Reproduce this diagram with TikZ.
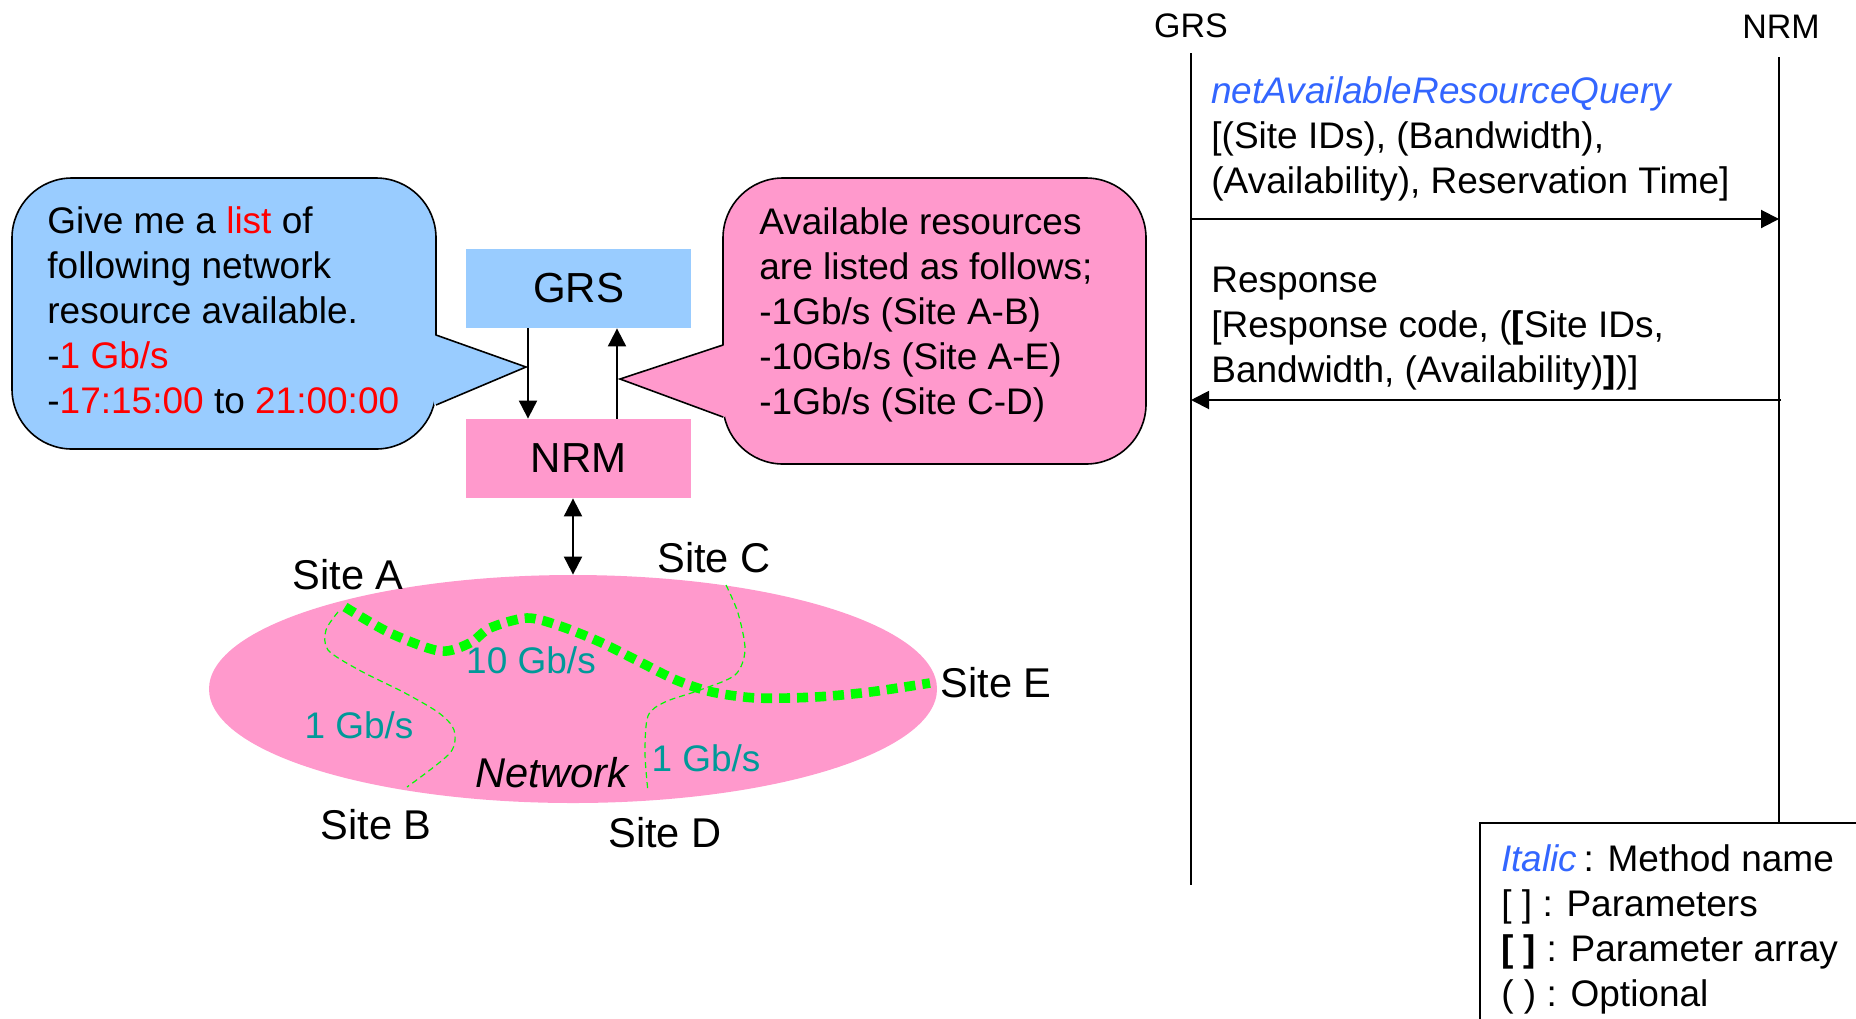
\documentclass[tikz,border=0pt]{standalone}
\usepackage{fontspec}
\setmainfont{Liberation Sans}
\usepackage{xcolor}
\usepackage{tikz}
\usetikzlibrary{positioning,arrows.meta,shapes.geometric}

\definecolor{bubbleblue}{HTML}{99CCFF}
\definecolor{bubblepink}{HTML}{FF99CC}
\definecolor{linkgreen}{HTML}{00FF00}
\definecolor{ratecyan}{HTML}{009999}
\definecolor{methodblue}{HTML}{3366FF}

\begin{document}
\begin{tikzpicture}[
        x=0.5pt, y=-0.5pt,
        every node/.style={font=\fontsize{18.5}{22.5}\selectfont},
        entity/.style={rectangle, minimum width=112.5pt, minimum height=39.5pt, inner sep=0pt, font=\fontsize{21}{25}\selectfont},
        bubble/.style={rectangle, rounded corners=30pt, draw=black, line width=0.8pt, inner sep=0pt},
        bubbletext/.style={anchor=north west, align=left, inner sep=0pt},
        msg/.style={-{Triangle[length=9pt,width=9pt]}, line width=1pt},
        dmsg/.style={{Triangle[length=9pt,width=9pt]}-{Triangle[length=9pt,width=9pt]}, line width=1pt},
        lifeline/.style={line width=0.8pt},
        thinlink/.style={linkgreen, line width=0.6pt, dash pattern=on 3pt off 2pt},
        thicklink/.style={linkgreen, line width=4.8pt, dash pattern=on 5.5pt off 3.5pt},
        site/.style={font=\fontsize{20.8}{25}\selectfont},
        rate/.style={text=ratecyan}
    ]

    \useasboundingbox (0,0) rectangle (1856,1018);
    \clip (0,0) rectangle (1856,1018);

    % ---------- 参数 ----------
    \def\grsx{1191}
    \def\nrmx{1779}

    % ---------- GRS / NRM ----------
    \node[entity, fill=bubbleblue] (grs) at (578.5,288.5) {GRS};
    \node[entity, fill=bubblepink] (nrm) at (578.5,458.5) {NRM};
    \draw[msg] ([xshift=-25.25pt]grs.south) -- ([xshift=-25.25pt]nrm.north);
    \draw[msg] ([xshift=19.25pt]nrm.north) -- ([xshift=19.25pt]grs.south);

    % ---------- 请求气泡 ----------
    \node[bubble, fill=bubbleblue, minimum width=212pt, minimum height=135.5pt] (askbub) at (224,313.5) {};
    \fill[bubbleblue] (434,335) -- (526,367) -- (434,405) -- cycle;
    \draw[line width=0.8pt] (436,335) -- (526,367) -- (436,405);
    \node[bubbletext] (ask) at (47,206) {Give me a \textcolor{red}{list} of\\following network\\resource available.\\-\textcolor{red}{1 Gb/s}\\-\textcolor{red}{17:15:00} to \textcolor{red}{21:00:00}};

    % ---------- 应答气泡 ----------
    \node[bubble, fill=bubblepink, minimum width=211.5pt, minimum height=143pt] (ansbub) at (934.5,321) {};
    \fill[bubblepink] (725,345) -- (620,379) -- (725,417) -- cycle;
    \draw[line width=0.8pt] (723,345) -- (620,379) -- (723,417);
    \node[bubbletext] (ans) at (759,207) {Available resources\\are listed as follows;\\-1Gb/s (Site A-B)\\-10Gb/s (Site A-E)\\-1Gb/s (Site C-D)};

    % ---------- 网络 ----------
    \node[ellipse, fill=bubblepink, minimum width=364pt, minimum height=114pt, inner sep=0pt] (net) at (573,689) {};
    \draw[dmsg] ([xshift=-2.75pt]nrm.south) -- (net.north);

    \draw[thinlink] plot[smooth] coordinates {(338,612) (326,630) (328,650) (359,670) (405,693) (439,713) (454,730) (450,753) (407,787)};
    \draw[thinlink] plot[smooth] coordinates {(726,585) (738,613) (745,650) (735,675) (700,690) (665,702) (648,716) (645,753) (648,792)};
    \draw[thicklink] plot[smooth] coordinates {(345,607) (390,633) (440,651) (470,643) (490,628) (527,618) (560,626) (600,642) (640,662) (676,680) (712,692) (757,698) (815,697) (870,692) (930,683)};

    \node[rate] (rateAE) at (531,660) {10 Gb/s};
    \node[rate] (rateAB) at (359,725) {1 Gb/s};
    \node[rate] (rateCD) at (706,758) {1 Gb/s};
    \node[site, font=\fontsize{20.8}{25}\selectfont\itshape] (netname) at (552,773) {Network};

    \foreach \s/\x/\y in {A/348/575, B/376/825, C/714/558, D/665/833, E/996/683} {
        \node[site] (site\s) at (\x,\y) {Site \s};
    }

    % ---------- 时序图 ----------
    \node[font=\fontsize{17}{20}\selectfont] (hgrs) at (\grsx,26) {GRS};
    \node[font=\fontsize{17}{20}\selectfont] (hnrm) at (1781,27) {NRM};
    \coordinate (gtop) at (\grsx,53);
    \coordinate (gbot) at (\grsx,885);
    \coordinate (ntop) at (\nrmx,57);
    \coordinate (nbot) at (\nrmx,823);
    \draw[lifeline] (gtop) -- (gbot);
    \draw[lifeline] (ntop) -- (nbot);

    \coordinate (qs) at (\grsx,219);
    \coordinate (qe) at (\nrmx,219);
    \draw[msg] (qs) -- (qe);
    \node[bubbletext] (query) at (1211,76) {\textcolor{methodblue}{\itshape netAvailableResourceQuery}\\{}[(Site IDs), (Bandwidth),\\(Availability), Reservation Time]};

    \coordinate (rs) at (1781,400);
    \coordinate (re) at (\grsx,400);
    \draw[msg] (rs) -- (re);
    \node[bubbletext] (resp) at (1211,267) {Response\\{}[Response code, (\textbf{[}Site IDs,\\Bandwidth, (Availability)\textbf{]})]};

    % ---------- 图例 ----------
    \draw[line width=0.8pt] (1480,1030) |- (1870,823);
    \node[bubbletext] (legend) at (1501,844) {\textcolor{methodblue}{\itshape Italic}\,: Method name\\{}[ ] : Parameters\\\textbf{[ ]} : Parameter array\\( ) : Optional};

\end{tikzpicture}
\end{document}
